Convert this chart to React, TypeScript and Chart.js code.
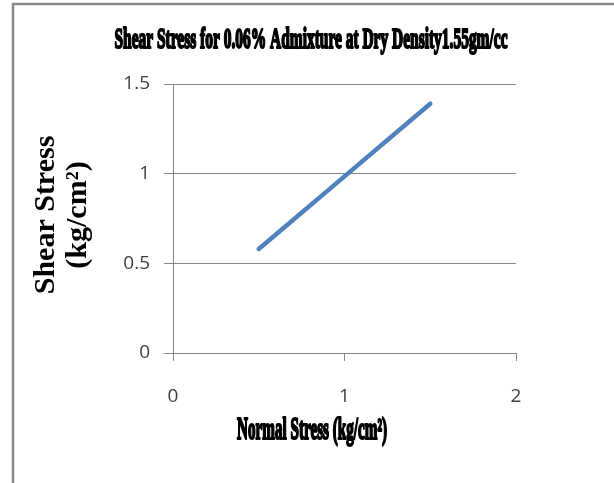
import React, { useEffect, useRef } from "react";
import { Chart, registerables } from "chart.js";

Chart.register(...registerables);

const NORMAL_STRESS = [0.5, 1.0, 1.5];
const SHEAR_STRESS = [0.58, 0.985, 1.39];
const CHART_TITLE = "Shear Stress for 0.06% Admixture at Dry Density1.55gm/cc";
const X_TITLE = "Normal Stress (kg/cm²)";
const Y_TITLE_LINES = ["Shear Stress", "(kg/cm²)"];
const X_MIN = 0;
const X_MAX = 2;
const X_STEP = 1;
const Y_MIN = 0;
const Y_MAX = 1.5;
const Y_STEP = 0.5;

function drawCondensed(ctx: CanvasRenderingContext2D, text: string, cx: number, cy: number, font: string, targetWidth: number) {
  ctx.save();
  ctx.font = font;
  const w = ctx.measureText(text).width;
  const s = targetWidth / w;
  ctx.translate(cx, cy);
  ctx.scale(s, 1);
  ctx.textAlign = "center";
  ctx.textBaseline = "middle";
  ctx.fillStyle = "#000";
  ctx.strokeStyle = "#000";
  ctx.lineWidth = 2.2;
  ctx.lineJoin = "round";
  ctx.fillText(text, 0, 0);
  ctx.strokeText(text, 0, 0);
  ctx.restore();
}

const decorPlugin = {
  id: "decor",
  beforeDraw(chart: any) {
    const ctx = chart.ctx as CanvasRenderingContext2D;
    ctx.save();
    ctx.fillStyle = "#fff";
    ctx.fillRect(0, 0, chart.width, chart.height);
    ctx.strokeStyle = "#8a8a8a";
    ctx.lineWidth = 2.5;
    ctx.strokeRect(13, 4, 800, 800);
    ctx.restore();
  },
  afterDraw(chart: any) {
    const ctx = chart.ctx as CanvasRenderingContext2D;
    drawCondensed(ctx, CHART_TITLE, 311, 40, "bold 30px 'Liberation Serif'", 393);
    drawCondensed(ctx, X_TITLE, 312, 431, "bold 31px 'Liberation Serif'", 150);
    ctx.save();
    ctx.font = "bold 30px 'Liberation Serif'";
    ctx.fillStyle = "#000";
    ctx.textAlign = "center";
    ctx.textBaseline = "middle";
    ctx.translate(0, 215);
    ctx.rotate(-Math.PI / 2);
    ctx.fillText(Y_TITLE_LINES[0], 0, 46);
    ctx.fillText(Y_TITLE_LINES[1], 0, 78);
    ctx.restore();
  },
};

export default function App() {
  const ref = useRef<HTMLCanvasElement | null>(null);
  useEffect(() => {
    document.body.style.margin = "0";
    const canvas = ref.current!;
    const chart = new Chart(canvas, {
      type: "scatter",
      data: {
        datasets: [
          {
            data: NORMAL_STRESS.map((x, i) => ({ x, y: SHEAR_STRESS[i] })),
            showLine: true,
            borderColor: "#4f81bd",
            borderWidth: 4.5,
            borderCapStyle: "round",
            pointRadius: 0,
            pointHoverRadius: 0,
          },
        ],
      },
      options: {
        responsive: false,
        animation: false,
        layout: { padding: { left: 0, top: 84, right: 98, bottom: 0 } },
        plugins: { legend: { display: false }, title: { display: false }, tooltip: { enabled: false } },
        scales: {
          x: {
            type: "linear",
            min: X_MIN,
            max: X_MAX,
            afterFit(scale: any) {
              scale.height = 130;
            },
            ticks: {
              stepSize: X_STEP,
              padding: 24,
              color: "#404040",
              font: { family: "'Open Sans'", size: 19 },
              callback: (v: any) => String(v),
            },
            grid: { drawOnChartArea: false, drawTicks: true, tickLength: 8, color: "#868686", lineWidth: 1 },
            border: { color: "#868686", width: 1 },
          },
          y: {
            type: "linear",
            min: Y_MIN,
            max: Y_MAX,
            afterFit(scale: any) {
              scale.width = 173;
            },
            ticks: {
              stepSize: Y_STEP,
              padding: 14,
              color: "#404040",
              font: { family: "'Open Sans'", size: 19 },
              callback: (v: any) => String(v),
            },
            grid: { drawTicks: true, tickLength: 9, color: "#868686", lineWidth: 1 },
            border: { color: "#868686", width: 1 },
          },
        },
      },
      plugins: [decorPlugin],
    });
    return () => chart.destroy();
  }, []);
  return (
    <div style={{ position: "fixed", left: 0, top: 0, width: 614, height: 483 }}>
      <canvas ref={ref} width={614} height={483} />
    </div>
  );
}
